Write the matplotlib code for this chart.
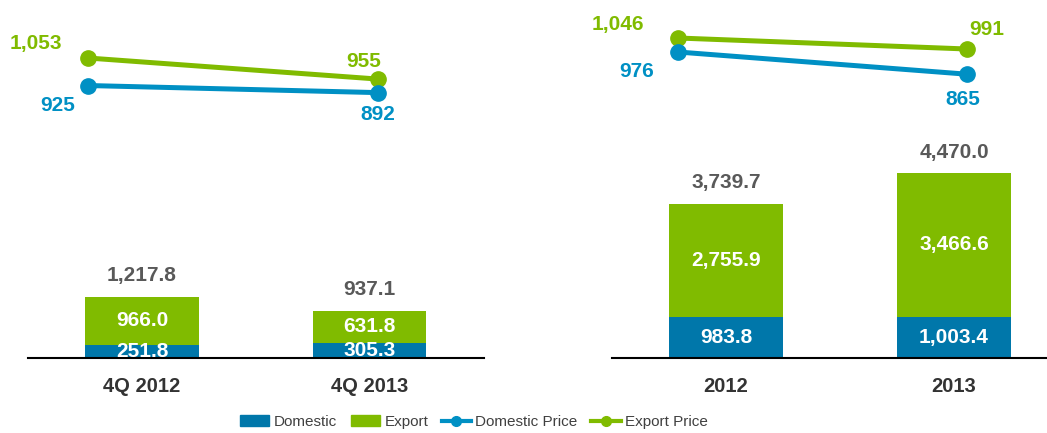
import numpy as np
import matplotlib
matplotlib.use("Agg")
import matplotlib.pyplot as plt
from matplotlib.patches import Patch
from matplotlib.lines import Line2D

# data
q_labels = ["4Q 2012", "4Q 2013"]
q_domestic = [251.8, 305.3]
q_export = [966.0, 631.8]
q_dom_price = [925, 892]
q_exp_price = [1053, 955]

y_labels = ["2012", "2013"]
y_domestic = [983.8, 1003.4]
y_export = [2755.9, 3466.6]
y_dom_price = [976, 865]
y_exp_price = [1046, 991]

C_DOM = "#0077AA"
C_EXP = "#80BB00"
C_DOM_LINE = "#0090C4"
C_TOTAL = "#595959"
C_TICK = "#333333"

W, H = 1047, 433
plt.rcParams["font.family"] = ["Liberation Sans", "DejaVu Sans"]
fig = plt.figure(figsize=(W / 100, H / 100), dpi=100)


def px_axes(x0, x1, ytop, ybot):
    ax = fig.add_axes([x0 / W, 1 - ybot / H, (x1 - x0) / W, (ybot - ytop) / H])
    ax.patch.set_alpha(0)
    for s in ax.spines.values():
        s.set_visible(False)
    ax.set_yticks([])
    return ax


def fmt(v, dec=1):
    return f"{v:,.{dec}f}"


def bar_panel(ax, labels, dom, exp):
    x = np.arange(len(labels))
    tot = np.array(dom) + np.array(exp)
    ax.bar(x, dom, width=0.5, color=C_DOM, zorder=2)
    ax.bar(x, exp, width=0.5, bottom=dom, color=C_EXP, zorder=2)
    for i in x:
        ax.text(i, dom[i] / 2, fmt(dom[i]), ha="center", va="center",
                color="white", fontsize=15, fontweight="bold", zorder=3)
        ax.text(i, dom[i] + exp[i] / 2, fmt(exp[i]), ha="center", va="center",
                color="white", fontsize=15, fontweight="bold", zorder=3)
        ax.annotate(fmt(tot[i]), (i, tot[i]), xytext=(0, 15), textcoords="offset points",
                    ha="center", va="center", color=C_TOTAL, fontsize=15, fontweight="bold")
    ax.spines["bottom"].set_visible(True)
    ax.spines["bottom"].set_color("black")
    ax.spines["bottom"].set_linewidth(1.5)
    ax.set_xticks(x)
    ax.set_xticklabels(labels, fontsize=14.5, fontweight="bold", color=C_TICK)
    ax.tick_params(axis="x", length=0, pad=14)


def line_panel(ax, dom_p, exp_p, offs):
    x = np.arange(len(dom_p))
    ax.plot(x, exp_p, color=C_EXP, lw=3.6, marker="o", ms=11, solid_capstyle="round")
    ax.plot(x, dom_p, color=C_DOM_LINE, lw=3.6, marker="o", ms=11, solid_capstyle="round")
    for i in x:
        ax.annotate(fmt(exp_p[i], 0), (i, exp_p[i]), xytext=offs["exp"][i], textcoords="offset points",
                    ha="center", va="center", color=C_EXP, fontsize=15, fontweight="bold")
        ax.annotate(fmt(dom_p[i], 0), (i, dom_p[i]), xytext=offs["dom"][i], textcoords="offset points",
                    ha="center", va="center", color=C_DOM_LINE, fontsize=15, fontweight="bold")
    ax.set_xticks([])


# left panel
axb1 = px_axes(28, 484, 140, 358)
axb1.set_xlim(-0.501, 1.503)
axb1.set_ylim(0, 218 / 0.0505)
bar_panel(axb1, q_labels, q_domestic, q_export)

axl1 = px_axes(28, 484, 0, 140)
axl1.set_xlim(-0.207, 1.366)
axl1.set_ylim(671.6, 1322.8)
line_panel(axl1, q_dom_price, q_exp_price,
           {"exp": [(-37.4, 10.8), (-10, 13)], "dom": [(-21.6, -14.4), (0, -15.8)]})

# right panel
axb2 = px_axes(612, 1047, 140, 358)
axb2.set_xlim(-0.5, 1.408)
axb2.set_ylim(0, 218 / 0.0413)
bar_panel(axb2, y_labels, y_domestic, y_export)

axl2 = px_axes(612, 1047, 0, 140)
axl2.set_xlim(-0.228, 1.277)
axl2.set_ylim(536, 1236)
line_panel(axl2, y_dom_price, y_exp_price,
           {"exp": [(-43.2, 9.4), (14.4, 13.7)], "dom": [(-29.5, -13.7), (-2.9, -18)]})

handles = [
    Patch(color=C_DOM, label="Domestic"),
    Patch(color=C_EXP, label="Export"),
    Line2D([], [], color=C_DOM_LINE, lw=3, marker="o", ms=7, label="Domestic Price"),
    Line2D([], [], color=C_EXP, lw=3, marker="o", ms=7, label="Export Price"),
]
leg = fig.legend(handles=handles, loc="center", bbox_to_anchor=(474 / W, 1 - 422 / H), ncol=4,
                 frameon=False, handlelength=1.9, handleheight=0.75, handletextpad=0.3,
                 columnspacing=0.9, borderpad=0,
                 prop={"family": ["Liberation Sans Narrow", "Liberation Sans"], "size": 11})
for t in leg.get_texts():
    t.set_color("#404040")

fig.savefig("out.png", dpi=100)
